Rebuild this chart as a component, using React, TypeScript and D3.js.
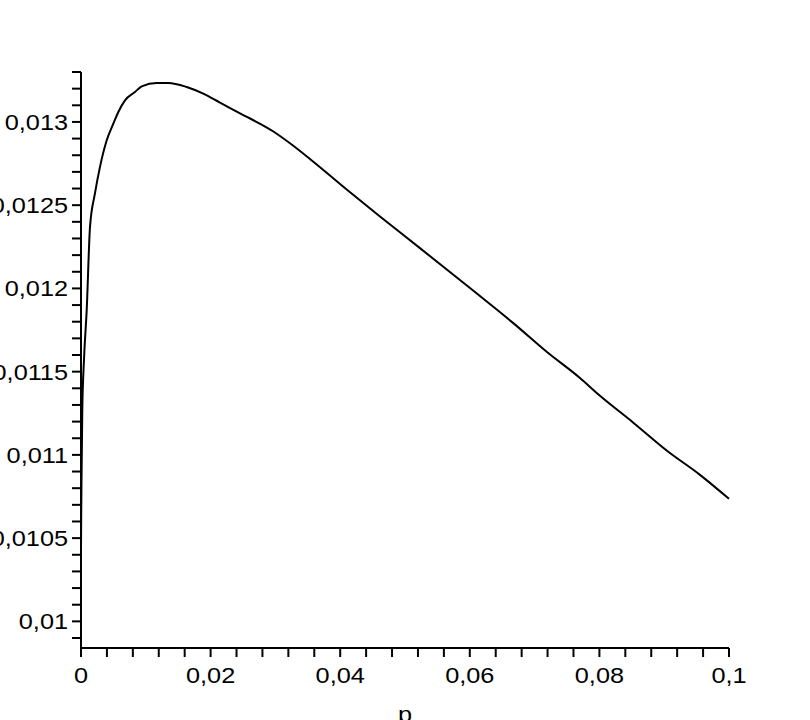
import React from "react";
import * as d3 from "d3";

const pValues = [0, 0.00003, 0.00008, 0.0002, 0.00046, 0.00088, 0.00139, 0.00216, 0.00293, 0.00397, 0.00494, 0.00576, 0.00679, 0.00833, 0.00937, 0.01168, 0.01347, 0.01631, 0.01887, 0.02145, 0.02454, 0.02963, 0.03225, 0.03735, 0.04105, 0.04614, 0.05231, 0.06003, 0.06667, 0.07191, 0.077, 0.08009, 0.08519, 0.09043, 0.09552, 0.1];
const fValues = [0.01043, 0.01063, 0.01085, 0.01127, 0.01157, 0.01187, 0.01237, 0.012572, 0.01273, 0.01289, 0.012985, 0.01306, 0.01313, 0.01318, 0.013214, 0.013234, 0.013234, 0.01321, 0.01317, 0.013116, 0.013052, 0.012944, 0.012872, 0.012713, 0.012593, 0.012432, 0.012242, 0.012002, 0.011793, 0.011618, 0.011462, 0.011355, 0.011195, 0.011025, 0.01088, 0.010736];

const xMajorTicks = [0, 0.02, 0.04, 0.06, 0.08, 0.1];
const xTickLabels = ["0", "0,02", "0,04", "0,06", "0,08", "0,1"];
const yMajorTicks = [0.01, 0.0105, 0.011, 0.0115, 0.012, 0.0125, 0.013];
const yTickLabels = ["0,01", "0,0105", "0,011", "0,0115", "0,012", "0,0125", "0,013"];
const xLabel = "p";

export default function App() {
  const left = 81, right = 729, top = 72, bottom = 648;
  const x = d3.scaleLinear().domain([0, 0.1]).range([left, right]);
  const y = d3.scaleLinear().domain([0.00984, 0.0133]).range([bottom, top]);

  const xMinor = d3.range(0, 25 + 1).map((i) => i * 0.004);
  const yMinor = d3.range(99, 134).map((i) => i * 0.0001);

  const data = pValues.map((p, i) => [p, fValues[i]] as [number, number]);
  const line = d3
    .line<[number, number]>()
    .x((d) => x(d[0]))
    .y((d) => y(d[1]))
    .curve(d3.curveMonotoneX);

  const font = "'Liberation Sans', Arial, Helvetica, sans-serif";
  const fs = 22;
  const sx = 1.15;

  return (
    <svg width={810} height={720} style={{ position: "absolute", left: 0, top: 0, background: "#fff" }}>
      <rect width={810} height={720} fill="#fff" />
      <line x1={left} x2={right} y1={bottom} y2={bottom} stroke="#000" strokeWidth={2} />
      <line x1={left} x2={left} y1={top} y2={bottom} stroke="#000" strokeWidth={2} />
      {xMinor.map((t, i) => (
        <line key={"xt" + i} x1={x(t)} x2={x(t)} y1={bottom} y2={bottom + 9} stroke="#000" strokeWidth={2} />
      ))}
      {yMinor.map((t, i) => (
        <line key={"yt" + i} x1={left - 9} x2={left} y1={y(t)} y2={y(t)} stroke="#000" strokeWidth={2} />
      ))}
      {xMajorTicks.map((t, i) => (
        <text key={"xl" + i} transform={`translate(${x(t)},683) scale(${sx},1)`} textAnchor="middle" fontFamily={font} fontSize={fs} fill="#000">
          {xTickLabels[i]}
        </text>
      ))}
      {yMajorTicks.map((t, i) => (
        <text key={"yl" + i} transform={`translate(68,${y(t)}) scale(${sx},1)`} dy="0.36em" textAnchor="end" fontFamily={font} fontSize={fs} fill="#000">
          {yTickLabels[i]}
        </text>
      ))}
      <text transform={`translate(405,722) scale(${sx},1)`} textAnchor="middle" fontFamily={font} fontSize={fs} fill="#000">
        {xLabel}
      </text>
      <path d={line(data) || ""} fill="none" stroke="#000" strokeWidth={2} />
    </svg>
  );
}
